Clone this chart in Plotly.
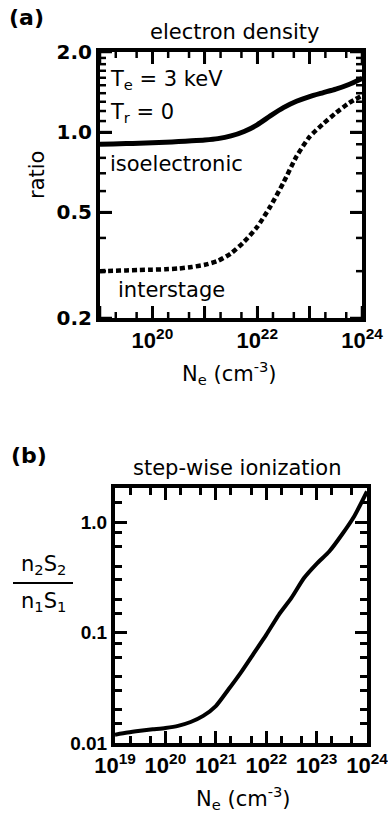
import plotly.graph_objects as go

W, H = 388, 817

# ---------------- data ----------------
# panel (a): electron density dependence of the line ratios (log10 of Ne in cm^-3)
a_log_ne = [19, 19.25, 19.5, 19.75, 20, 20.25, 20.5, 20.75, 21, 21.25, 21.5,
            21.75, 22, 22.25, 22.5, 22.75, 23, 23.25, 23.5, 23.75, 24]
a_isoelectronic = [0.90, 0.902, 0.905, 0.908, 0.912, 0.916, 0.921, 0.927, 0.934, 0.945, 0.967,
                   1.005, 1.065, 1.15, 1.235, 1.305, 1.36, 1.405, 1.45, 1.51, 1.59]
a_interstage = [0.300, 0.301, 0.302, 0.303, 0.304, 0.305, 0.307, 0.311, 0.317, 0.328, 0.350,
                0.387, 0.44, 0.525, 0.645, 0.81, 0.96, 1.07, 1.18, 1.285, 1.37]

# panel (b): step-wise ionization ratio n2S2/n1S1
b_log_ne = [19, 19.25, 19.5, 19.75, 20, 20.25, 20.5, 20.75, 21, 21.25, 21.5,
            21.75, 22, 22.25, 22.5, 22.75, 23, 23.25, 23.5, 23.75, 24]
b_ratio = [0.0119, 0.01245, 0.0129, 0.0133, 0.0137, 0.0143, 0.0155, 0.0176, 0.0216, 0.0305, 0.0437,
           0.0646, 0.0955, 0.145, 0.206, 0.312, 0.42, 0.543, 0.77, 1.14, 1.9]

# tick labels
a_x_tickvals = [1e19, 1e20, 1e21, 1e22, 1e23, 1e24]
a_x_ticktext = ["", "10<sup>20</sup>", "", "10<sup>22</sup>", "", "10<sup>24</sup>"]
a_y_tickvals = [0.2, 0.5, 1.0, 2.0]
a_y_ticktext = ["0.2", "0.5", "1.0", "2.0"]
b_x_tickvals = [1e19, 1e20, 1e21, 1e22, 1e23, 1e24]
b_x_ticktext = ["10<sup>19</sup>", "10<sup>20</sup>", "10<sup>21</sup>", "10<sup>22</sup>", "10<sup>23</sup>", "10<sup>24</sup>"]
b_y_tickvals = [0.01, 0.1, 1.0]
b_y_ticktext = ["0.01", "0.1", "1.0"]

# minor tick positions
a_x_minor = [m * 10.0 ** e for e in range(19, 24) for m in (2, 5)]
a_y_minor = [k / 10 for k in range(3, 20) if k not in (5, 10)]
b_x_minor = [m * 10.0 ** e for e in range(19, 24) for m in (2, 5)]
b_y_minor = [m * 10.0 ** e for e in (-2, -1, 0) for m in (1.5, 2, 3, 4, 6, 8)]


def px(x):
    return x / W


def py(y):
    return 1 - y / H


fig = go.Figure()

fig.add_trace(go.Scatter(
    x=[10.0 ** v for v in a_log_ne], y=a_isoelectronic, mode="lines",
    line=dict(color="black", width=5, shape="spline", smoothing=0.6),
    xaxis="x", yaxis="y", showlegend=False))
fig.add_trace(go.Scatter(
    x=[10.0 ** v for v in a_log_ne], y=a_interstage, mode="lines",
    line=dict(color="black", width=4.5, dash="5px,3px", shape="spline", smoothing=0.6),
    xaxis="x", yaxis="y", showlegend=False))
fig.add_trace(go.Scatter(
    x=[10.0 ** v for v in b_log_ne], y=b_ratio, mode="lines",
    line=dict(color="black", width=4, shape="spline", smoothing=0.6),
    xaxis="x2", yaxis="y2", showlegend=False))

# empty traces so the tick overlay axes of panel (b) get drawn
for xa, ya in (("x4", "y2"), ("x2", "y4")):
    fig.add_trace(go.Scatter(x=[], y=[], xaxis=xa, yaxis=ya, showlegend=False, hoverinfo="skip"))

common = dict(type="log", showline=True, linecolor="black", linewidth=4, mirror="ticks",
              ticks="inside", ticklen=12, tickwidth=3, tickcolor="black",
              showgrid=False, zeroline=False, tickmode="array", ticklabeloverflow="allow")


def tick_axis(base, anchor, rng, vals, side, ln):
    return dict(type="log", overlaying=base, anchor=anchor, range=rng, side=side,
                tickmode="array", tickvals=vals, ticks="inside", ticklen=ln, tickwidth=3,
                tickcolor="black", showticklabels=False, showline=False, mirror="ticks",
                showgrid=False, zeroline=False)


a_xr, a_yr = [19, 24], [-0.69897, 0.30103]
b_xr, b_yr = [19, 24], [-2, 0.31]

fig.update_layout(
    template="none",
    width=W, height=H, margin=dict(l=0, r=0, t=0, b=0),
    paper_bgcolor="white", plot_bgcolor="white",
    font=dict(family="DejaVu Sans", color="black", size=20),
    xaxis=dict(**common, domain=[px(100), px(362)], anchor="y",
               range=a_xr, tickvals=a_x_tickvals, ticktext=a_x_ticktext,
               tickfont=dict(family="Liberation Sans", size=22, weight="bold")),
    yaxis=dict(**common, domain=[py(318), py(52)], anchor="x",
               range=a_yr, tickvals=a_y_tickvals, ticktext=a_y_ticktext,
               tickfont=dict(family="DejaVu Sans", size=20, weight="bold")),
    xaxis2=dict(**common, domain=[px(115), px(367)], anchor="y2",
                range=b_xr, tickvals=b_x_tickvals, ticktext=b_x_ticktext,
                tickfont=dict(family="Liberation Sans", size=22, weight="bold")),
    yaxis2=dict(**common, domain=[py(743), py(488)], anchor="x2",
                range=b_yr, tickvals=b_y_tickvals, ticktext=b_y_ticktext,
                tickfont=dict(family="Liberation Sans", size=19, weight="bold")),
    xaxis4=tick_axis("x2", "y2", b_xr, b_x_minor, "bottom", 7),
    yaxis4=tick_axis("y2", "x2", b_yr, b_y_minor, "left", 7),
)

# panel (a) tick marks drawn on the axes' own scales (x/y data, other direction in domain units)
a_w_px, a_h_px = 362 - 100, 318 - 52
shapes = []
for vals, ln in ((a_x_tickvals, 12), (a_x_minor, 6)):
    for v in vals:
        for y0, y1 in ((0, ln / a_h_px), (1, 1 - ln / a_h_px)):
            shapes.append(dict(type="line", xref="x", yref="y domain", x0=v, x1=v, y0=y0, y1=y1,
                               line=dict(color="black", width=2.5)))
for vals, ln in ((a_y_tickvals, 12), (a_y_minor, 6)):
    for v in vals:
        for x0, x1 in ((0, ln / a_w_px), (1, 1 - ln / a_w_px)):
            shapes.append(dict(type="line", xref="x domain", yref="y", x0=x0, x1=x1, y0=v, y1=v,
                               line=dict(color="black", width=2.5)))
shapes.append(dict(type="line", xref="paper", yref="paper", x0=px(13), x1=px(73), y0=py(583), y1=py(583),
                   line=dict(color="black", width=2)))

ann = []


def text(x, y, s, size=21, bold=False, angle=0, xanchor="center", family="DejaVu Sans"):
    ann.append(dict(x=px(x), y=py(y), xref="paper", yref="paper", text=s, showarrow=False,
                    xanchor=xanchor, yanchor="middle", textangle=angle,
                    font=dict(size=size, family=family, color="black",
                              weight="bold" if bold else "normal")))


text(26, 18, "(a)", size=22, bold=True)
text(235, 32, "electron density", size=21)
text(108, 80, "T<sub>e</sub> = 3 keV", size=21, xanchor="left")
text(108, 113, "T<sub>r</sub> = 0", size=21, xanchor="left")
text(108, 164, "isoelectronic", size=21, xanchor="left")
text(116, 290, "interstage", size=21, xanchor="left")
text(37, 175, "ratio", size=21, angle=-90)
text(229, 373, "N<sub>e</sub> (cm<sup>-3</sup>)", size=21)

text(29, 455, "(b)", size=22, bold=True)
text(237, 468, "step-wise ionization", size=21)
text(43, 565, "n<sub>2</sub>S<sub>2</sub>", size=21)
text(43, 602, "n<sub>1</sub>S<sub>1</sub>", size=21)
text(243, 798, "N<sub>e</sub> (cm<sup>-3</sup>)", size=21)

fig.update_layout(annotations=ann, shapes=shapes)

fig.write_html("out.html")
